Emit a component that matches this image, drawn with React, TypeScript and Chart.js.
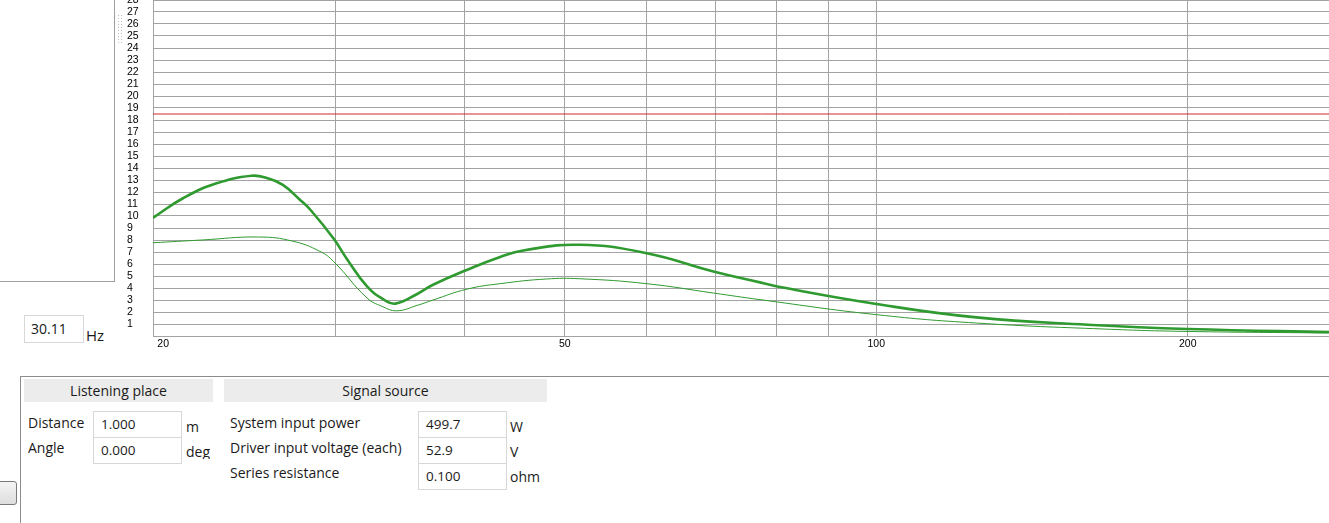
import React, { useEffect, useRef } from 'react';
import { Chart, registerables } from 'chart.js';

Chart.register(...registerables);

// ---- data ----
const thickFreqs = [20, 21.4, 23, 24.9, 25.8, 26.7, 27.7, 28.4, 29.9, 30.8, 32.2, 33.4, 34.3, 36.0, 37.3, 40.2, 43.3, 45.6, 51.7, 60, 69.6, 77.2, 80.7, 100, 125, 160, 200, 274, 300];
const thickLevels = [9.85, 11.5, 12.7, 13.35, 13.15, 12.6, 11.4, 10.5, 8.1, 6.4, 4.13, 3.05, 2.7, 3.5, 4.27, 5.5, 6.58, 7.13, 7.6, 6.9, 5.38, 4.47, 4.08, 2.67, 1.55, 0.94, 0.58, 0.33, 0.28];

const thinFreqs = [20, 22.3, 25.3, 27.3, 29.0, 29.9, 32.2, 33.3, 34.4, 36.0, 37.3, 40.2, 43.3, 48, 51.7, 60, 69.6, 77.2, 100, 125, 166, 200, 274, 300];
const thinLevels = [7.77, 8.0, 8.25, 7.9, 7.05, 6.2, 3.17, 2.47, 2.1, 2.55, 3.0, 3.9, 4.36, 4.75, 4.77, 4.36, 3.58, 3.03, 1.78, 1.08, 0.58, 0.38, 0.25, 0.22];

const limitFreqs = [20, 300];
const limitLevel = 18.5;

const xGridValues = [20, 30, 40, 50, 60, 70, 80, 90, 100, 200];
const xLabelValues = [20, 50, 100, 200];
const xLabelTexts = ['       20', '50', '100', '200'];
const yTickValues = [0, 1, 2, 3, 4, 5, 6, 7, 8, 9, 10, 11, 12, 13, 14, 15, 16, 17, 18, 19, 20, 21, 22, 23, 24, 25, 26, 27, 28];

const GREEN = '#2f9a2f';
const GRID = '#a3a3a3';
const UI_FONT = '"Open Sans", "Noto Sans", sans-serif';
const UI_SIZE = 14;

function Txt(props: { x: number; y: number; text: string; size?: number; lh?: number; clipH?: number }) {
  const { x, y, text, size = UI_SIZE, lh = 16, clipH } = props;
  return (
    <div
      style={{
        position: 'absolute',
        left: x,
        top: y,
        fontSize: size,
        lineHeight: lh + 'px',
        whiteSpace: 'nowrap',
        color: '#1a1a1a',
        height: clipH,
        overflow: clipH ? 'hidden' : undefined,
      }}
    >
      {text}
    </div>
  );
}

function Field(props: { x: number; y: number; w: number; h: number; text: string }) {
  const { x, y, w, h, text } = props;
  return (
    <div
      style={{
        position: 'absolute',
        left: x,
        top: y,
        width: w,
        height: h,
        boxSizing: 'border-box',
        border: '1px solid #d8d8d8',
        paddingLeft: 7,
        lineHeight: h - 2 + 'px',
        fontSize: 13.5,
        color: '#1a1a1a',
        background: '#fff',
      }}
    >
      {text}
    </div>
  );
}

function Header(props: { x: number; y: number; w: number; text: string }) {
  const { x, y, w, text } = props;
  return (
    <div
      style={{
        position: 'absolute',
        left: x,
        top: y,
        width: w,
        height: 23,
        background: '#ececec',
        textAlign: 'center',
        lineHeight: '23px',
        fontSize: UI_SIZE,
        color: '#1a1a1a',
      }}
    >
      {text}
    </div>
  );
}

export default function App() {
  const canvasRef = useRef<HTMLCanvasElement | null>(null);

  useEffect(() => {
    const canvas = canvasRef.current;
    if (!canvas) return;
    const tickFont = { family: '"Liberation Sans", Arial, sans-serif', size: 10.5 };
    const chart = new Chart(canvas, {
      type: 'line',
      data: {
        datasets: [
          {
            data: limitFreqs.map((f) => ({ x: f, y: limitLevel })),
            borderColor: '#d42b2b',
            borderWidth: 1,
            pointRadius: 0,
          },
          {
            data: thinFreqs.map((f, i) => ({ x: f, y: thinLevels[i] })),
            borderColor: GREEN,
            borderWidth: 1,
            pointRadius: 0,
            tension: 0.45,
          },
          {
            data: thickFreqs.map((f, i) => ({ x: f, y: thickLevels[i] })),
            borderColor: GREEN,
            borderWidth: 2.6,
            pointRadius: 0,
            tension: 0.45,
          },
        ],
      },
      options: {
        responsive: false,
        animation: false,
        devicePixelRatio: 1,
        events: [],
        layout: { padding: { top: 10, right: 10, left: 0, bottom: 0 } },
        plugins: { legend: { display: false }, tooltip: { enabled: false } },
        scales: {
          x: {
            type: 'logarithmic',
            min: 20,
            max: 300,
            afterBuildTicks: (s: any) => {
              s.ticks = xGridValues.map((v) => ({ value: v }));
            },
            afterFit: (s: any) => {
              s.height = 30;
            },
            grid: { color: GRID, lineWidth: 1, drawTicks: false },
            border: { color: GRID, width: 1 },
            ticks: {
              autoSkip: false,
              maxRotation: 0,
              minRotation: 0,
              padding: 2,
              color: '#000',
              font: tickFont,
              callback: (v: any) => {
                const idx = xLabelValues.indexOf(Number(v));
                return idx >= 0 ? xLabelTexts[idx] : '';
              },
            },
          },
          y: {
            type: 'linear',
            min: 0,
            max: 28,
            afterBuildTicks: (s: any) => {
              s.ticks = yTickValues.map((v) => ({ value: v }));
            },
            afterFit: (s: any) => {
              s.width = 26;
            },
            grid: { color: GRID, lineWidth: 1, drawTicks: false },
            border: { color: GRID, width: 1 },
            ticks: {
              autoSkip: false,
              crossAlign: 'far',
              padding: 0,
              color: '#000',
              font: tickFont,
              callback: (v: any) => (Number(v) === 0 ? '' : String(v)),
            },
          },
        },
      },
    } as any);
    return () => chart.destroy();
  }, []);

  return (
    <div
      style={{
        position: 'absolute',
        left: 0,
        top: 0,
        width: 1329,
        height: 523,
        overflow: 'hidden',
        background: '#fff',
        fontFamily: UI_FONT,
      }}
    >
      {/* left panel */}
      <div
        style={{
          position: 'absolute',
          left: -2,
          top: -2,
          width: 117,
          height: 284,
          boxSizing: 'border-box',
          border: '1px solid #a0a0a0',
        }}
      />
      {/* splitter grip */}
      <div
        style={{
          position: 'absolute',
          left: 117,
          top: 14,
          width: 6,
          height: 30,
          backgroundImage: 'radial-gradient(circle, #b9c3cf 0.8px, transparent 1px)',
          backgroundSize: '3px 3px',
        }}
      />

      <canvas
        ref={canvasRef}
        width={1253}
        height={376}
        style={{ position: 'absolute', left: 127, top: -10, width: 1253, height: 376 }}
      />

      {/* frequency box */}
      <div
        style={{
          position: 'absolute',
          left: 24,
          top: 315,
          width: 60,
          height: 28,
          boxSizing: 'border-box',
          border: '1px solid #d8d8d8',
          paddingLeft: 6,
          lineHeight: '26px',
          fontSize: 14,
          color: '#1a1a1a',
        }}
      >
        30.11
      </div>
      <Txt x={86} y={326} text="Hz" size={15} lh={18} />

      {/* bottom panel */}
      <div
        style={{
          position: 'absolute',
          left: 20,
          top: 376,
          width: 1400,
          height: 200,
          boxSizing: 'border-box',
          border: '1px solid #8c8c8c',
        }}
      />
      <Header x={24} y={379} w={189} text="Listening place" />
      <Header x={224} y={379} w={323} text="Signal source" />

      <Txt x={28} y={415} text="Distance" />
      <Txt x={28} y={440} text="Angle" />
      <Field x={93} y={411} w={89} h={27} text="1.000" />
      <Field x={93} y={437} w={89} h={27} text="0.000" />
      <Txt x={186} y={419} text="m" />
      <Txt x={186} y={444} text="deg" clipH={15} />

      <Txt x={230} y={415} text="System input power" />
      <Txt x={230} y={440} text="Driver input voltage (each)" />
      <Txt x={230} y={465} text="Series resistance" />
      <Field x={418} y={411} w={89} h={27} text="499.7" />
      <Field x={418} y={437} w={89} h={27} text="52.9" />
      <Field x={418} y={463} w={89} h={27} text="0.100" />
      <Txt x={510} y={419} text="W" />
      <Txt x={510} y={444} text="V" />
      <Txt x={510} y={469} text="ohm" />

      {/* small button */}
      <div
        style={{
          position: 'absolute',
          left: -12,
          top: 481,
          width: 29,
          height: 24,
          boxSizing: 'border-box',
          border: '1px solid #7a7a7a',
          borderRadius: 3,
          background: 'linear-gradient(#f4f4f4, #dedede)',
        }}
      />
    </div>
  );
}
